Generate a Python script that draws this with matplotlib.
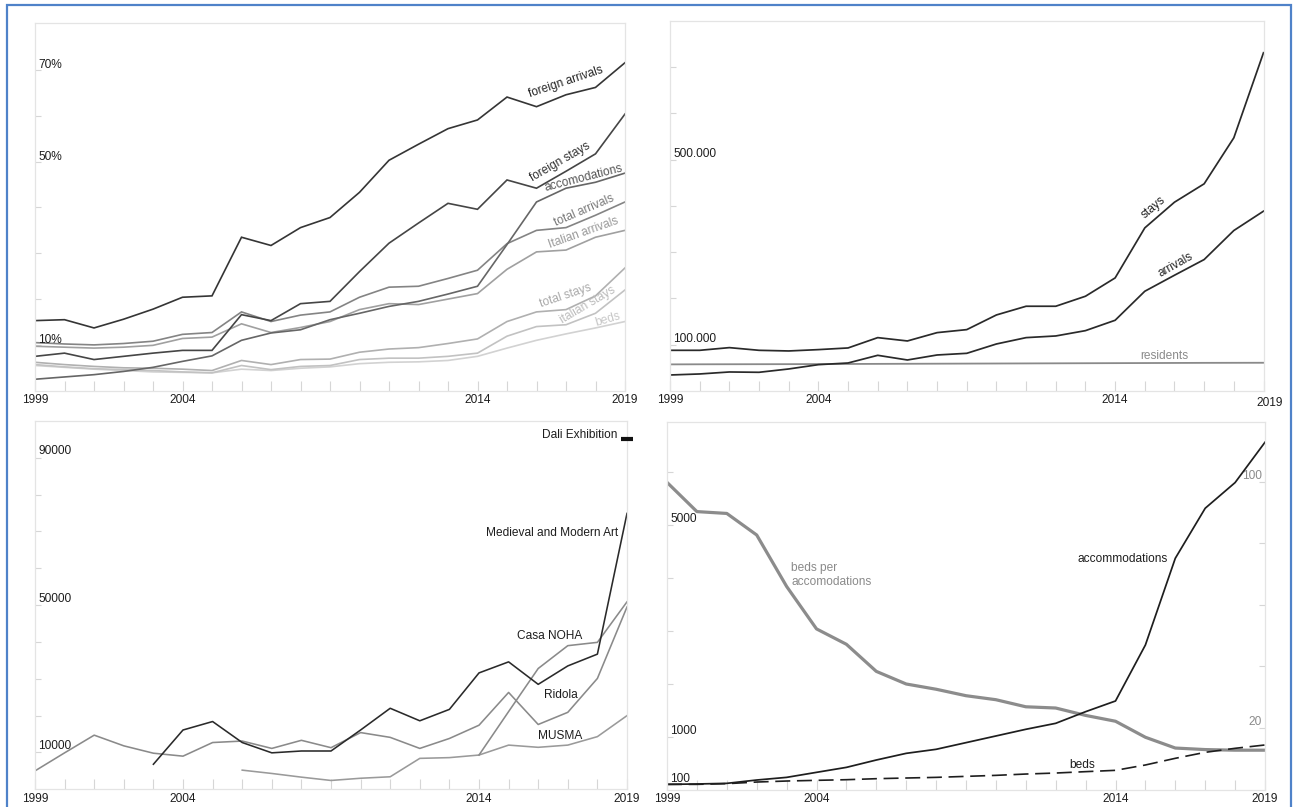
import matplotlib
matplotlib.use("Agg")
import matplotlib.pyplot as plt
from matplotlib.patches import Rectangle

plt.rcParams['font.family'] = ['Liberation Sans', 'DejaVu Sans']

# ---------------- data ----------------
years = list(range(1999, 2020))
xlabels = {1999: "1999", 2004: "2004", 2014: "2014", 2019: "2019"}

# panel 1 (percent)
foreign_arrivals = [15.3, 15.5, 13.7, 15.6, 17.8, 20.4, 20.7, 33.5, 31.7, 35.6, 37.8,
                    43.3, 50.3, 53.8, 57.2, 59.1, 64.1, 62.0, 64.6, 66.2, 71.6]
foreign_stays = [7.5, 8.2, 6.8, 7.5, 8.2, 8.8, 8.8, 16.6, 15.3, 19.0, 19.5,
                 26.0, 32.2, 36.6, 40.9, 39.6, 46.0, 44.2, 47.9, 51.7, 60.4]
accomodations_pct = [2.5, 3.0, 3.5, 4.2, 5.1, 6.4, 7.6, 11.0, 12.6, 13.3, 15.5,
                     16.9, 18.4, 19.5, 21.1, 22.8, 31.9, 41.2, 44.2, 45.5, 47.5]
total_arrivals = [10.5, 10.2, 10.0, 10.3, 10.8, 12.3, 12.7, 17.2, 15.1, 16.5, 17.2,
                  20.4, 22.6, 22.8, 24.5, 26.3, 32.1, 35.0, 35.6, 38.3, 41.2]
italian_arrivals = [9.7, 9.5, 9.3, 9.5, 9.9, 11.4, 11.7, 14.6, 12.7, 13.8, 15.1,
                    17.7, 19.0, 18.8, 20.0, 21.2, 26.5, 30.3, 30.7, 33.5, 35.0]
total_stays = [6.2, 5.7, 5.3, 5.0, 4.9, 4.7, 4.4, 6.6, 5.7, 6.8, 6.9,
               8.4, 9.1, 9.4, 10.3, 11.3, 15.1, 17.2, 17.7, 20.7, 26.8]
italian_stays = [5.7, 5.2, 4.8, 4.6, 4.4, 4.1, 3.9, 5.5, 4.6, 5.3, 5.5,
                 6.8, 7.1, 7.1, 7.5, 8.2, 11.9, 14.0, 14.4, 16.9, 22.0]
beds_pct = [5.5, 5.1, 4.7, 4.4, 4.1, 4.0, 3.9, 4.7, 4.4, 4.9, 5.2,
            5.9, 6.2, 6.3, 6.6, 7.5, 9.3, 11.0, 12.4, 13.7, 15.1]

# panel 2 (absolute)
stays = [87900, 87900, 93700, 87900, 86500, 89400, 93000, 115300, 108100, 126100, 132600,
         164300, 183100, 183100, 204700, 244300, 352400, 407900, 447600, 547000, 730800]
arrivals = [34600, 36800, 41100, 40400, 47600, 56900, 60500, 77100, 67000, 77800, 81400,
            101600, 115300, 118900, 130400, 152800, 215500, 250100, 284000, 346700, 388500]
residents = [57500, 57700, 57800, 57900, 58000, 58200, 58400, 58600, 58800, 59000, 59200,
             59400, 59600, 59800, 60000, 60200, 60400, 60600, 60800, 60900, 61000]

# panel 3 (museum visitors)
ridola_years = years
ridola = [5000, 9900, 14700, 11800, 9800, 9000, 12700, 13100, 11100, 13300, 11300,
          15400, 14100, 11100, 13800, 17400, 26300, 17600, 20900, 30100, 49500]
medieval_years = list(range(2003, 2020))
medieval = [6800, 16100, 18400, 12700, 9900, 10400, 10400, 16100, 22000, 18600, 21700,
            31600, 34600, 28500, 33500, 36700, 74900]
noha_years = list(range(2014, 2020))
casa_noha = [9300, 21100, 32800, 39000, 39900, 50900]
musma_years = list(range(2006, 2020))
musma = [5200, 4300, 3300, 2400, 3000, 3400, 8400, 8600, 9300, 12000, 11400, 12000, 14300, 20000]
dali_year = [2019]
dali = [95000]

# panel 4
accommodations = [99, 106, 118, 181, 231, 326, 420, 559, 685, 761, 887,
                  1013, 1139, 1252, 1472, 1674, 2732, 4370, 5315, 5800, 6562]
beds = [99, 99, 112, 143, 162, 175, 187, 206, 219, 231, 250,
        269, 294, 313, 339, 364, 465, 591, 704, 780, 843]
beds_per_acc = [99.8, 90.3, 89.7, 82.7, 66.0, 52.2, 47.2, 38.4, 34.3, 32.6, 30.5,
                29.2, 26.9, 26.5, 24.1, 22.2, 17.0, 13.5, 13.0, 12.8, 12.8]

# ---------------- figure ----------------
W, H = 1301, 807
fig = plt.figure(figsize=(W / 100, H / 100), dpi=100)


def add_ax(left, top, right, bottom):
    return fig.add_axes([left / W, 1 - bottom / H, (right - left) / W, (bottom - top) / H])


FS = 8.6
FRAME = '#e4e4e4'
TICK = '#d6d6d6'


def style(ax, yticks):
    for s in ax.spines.values():
        s.set_color(FRAME)
        s.set_linewidth(0.9)
    ax.set_xlim(1999, 2019)
    ax.set_xticks(years)
    ax.set_xticklabels([xlabels.get(y, "") for y in years])
    ax.tick_params(axis='x', direction='in', length=7.5, color=TICK, width=0.8,
                   labelsize=FS, pad=2.5, labelcolor='#1e1e1e')
    ax.set_yticks(yticks)
    ax.set_yticklabels([])
    ax.tick_params(axis='y', direction='in', length=4, color=TICK, width=0.8)


def ylab(ax, v, text, color='#1e1e1e', dy=1.5):
    ax.annotate(text, xy=(0, v), xycoords=ax.get_yaxis_transform(), xytext=(2.5, dy),
                textcoords='offset points', ha='left', va='baseline', fontsize=FS, color=color)


# ---- panel 1 ----
ax1 = add_ax(35, 23.3, 625, 390.7)
style(ax1, [10, 20, 30, 40, 50, 60, 70])
ax1.set_ylim(0, 80.2)
lw = 1.2
series1 = [
    (beds_pct, '#d2d2d2'), (italian_stays, '#c2c2c2'), (total_stays, '#b0b0b0'),
    (italian_arrivals, '#a0a0a0'), (total_arrivals, '#848484'), (accomodations_pct, '#666666'),
    (foreign_stays, '#454545'), (foreign_arrivals, '#353535'),
]
for vals, c in series1:
    ax1.plot(years, vals, color=c, lw=lw, solid_joinstyle='miter')
ylab(ax1, 70, "70%")
ylab(ax1, 50, "50%")
ylab(ax1, 10, "10%")
labels1 = [
    ("foreign arrivals", 2017.0, 67.4, 18.5, '#262626'),
    ("foreign stays", 2016.8, 49.9, 30, '#303030'),
    ("accomodations", 2017.6, 46.4, 14.4, '#555555'),
    ("total arrivals", 2017.6, 39.4, 23.4, '#7a7a7a'),
    ("Italian arrivals", 2017.6, 34.4, 19.6, '#999999'),
    ("total stays", 2017.0, 20.7, 18.4, '#aaaaaa'),
    ("italian stays", 2017.75, 18.7, 30.5, '#bbbbbb'),
    ("beds", 2018.4, 15.6, 16.5, '#c8c8c8'),
]
for t, x, y, r, c in labels1:
    ax1.text(x, y, t, rotation=r, rotation_mode='anchor', ha='center', va='center',
             fontsize=FS, color=c)

# ---- panel 2 ----
ax2 = add_ax(670, 20.7, 1263.5, 391.0)
style(ax2, [100000, 200000, 300000, 400000, 500000, 600000, 700000])
ax2.set_ylim(0, 800000)
ax2.set_xticklabels([xlabels.get(y, "") if y != 2019 else "" for y in years])
ax2.text(2019.2, -0.033, "2019", transform=ax2.get_xaxis_transform(), ha='center',
         va='center', fontsize=FS, color='#1e1e1e')
ax2.plot(years, residents, color='#8a8a8a', lw=1.3)
ax2.plot(years, arrivals, color='#2a2a2a', lw=1.25)
ax2.plot(years, stays, color='#2a2a2a', lw=1.25)
ylab(ax2, 500000, "500.000", dy=2)
ylab(ax2, 100000, "100.000", dy=2)
ax2.text(2015.3, 396000, "stays", rotation=40, rotation_mode='anchor', ha='center',
         va='center', fontsize=FS, color='#262626')
ax2.text(2016.05, 273000, "arrivals", rotation=29.5, rotation_mode='anchor', ha='center',
         va='center', fontsize=FS, color='#262626')
ax2.text(2015.65, 76500, "residents", ha='center', va='center', fontsize=FS, color='#8a8a8a')

# ---- panel 3 ----
ax3 = add_ax(35, 421.0, 627, 789.3)
style(ax3, [10000, 20000, 30000, 40000, 50000, 60000, 70000, 80000, 90000])
ax3.set_ylim(0, 100000)
ax3.plot(musma_years, musma, color='#9a9a9a', lw=1.15)
ax3.plot(ridola_years, ridola, color='#8a8a8a', lw=1.15)
ax3.plot(noha_years, casa_noha, color='#8a8a8a', lw=1.15)
ax3.plot(medieval_years, medieval, color='#2a2a2a', lw=1.15)
ax3.plot(dali_year, dali, marker='_', markersize=8, mew=3, color='#111111',
         linestyle='none', clip_on=False, zorder=6)
ylab(ax3, 90000, "90000", dy=2.5)
ylab(ax3, 50000, "50000", dy=2.5)
ylab(ax3, 10000, "10000", dy=2.5)
ax3.text(2018.66, 96200, "Dali Exhibition", ha='right', va='center', fontsize=FS, color='#1e1e1e')
ax3.text(2018.7, 69600, "Medieval and Modern Art", ha='right', va='center', fontsize=FS,
         color='#1e1e1e')
ax3.text(2016.4, 41600, "Casa NOHA", ha='center', va='center', fontsize=FS, color='#1e1e1e')
ax3.text(2016.77, 25600, "Ridola", ha='center', va='center', fontsize=FS, color='#1e1e1e')
ax3.text(2016.74, 14500, "MUSMA", ha='center', va='center', fontsize=FS, color='#1e1e1e')

# ---- panel 4 ----
ax4 = add_ax(667, 421.7, 1265, 789.6)
style(ax4, [1000, 2000, 3000, 4000, 5000, 6000])
ax4.set_ylim(0, 6950)
ax4r = ax4.twinx()
ax4r.set_ylim(0, 119.5)
for s in ax4r.spines.values():
    s.set_visible(False)
ax4r.set_yticks([20, 40, 60, 80, 100])
ax4r.set_yticklabels([])
ax4r.tick_params(axis='y', direction='in', length=4, color=TICK, width=0.8)
ax4r.plot(years, beds_per_acc, color='#8c8c8c', lw=2.3, solid_joinstyle='round')
ax4.plot(years, beds, color='#1e1e1e', lw=1.2, dashes=(9, 4))
ax4.plot(years, accommodations, color='#1e1e1e', lw=1.25)
ax4.set_zorder(ax4r.get_zorder() + 1)
ax4.patch.set_visible(False)
ylab(ax4, 5000, "5000", dy=2)
ylab(ax4, 1000, "1000", dy=2)
ylab(ax4, 100, "100", dy=2)
ax4r.annotate("100", xy=(1, 100), xycoords=ax4r.get_yaxis_transform(), xytext=(-2.5, 2),
              textcoords='offset points', ha='right', va='baseline', fontsize=FS, color='#8a8a8a')
ax4r.annotate("20", xy=(1, 20), xycoords=ax4r.get_yaxis_transform(), xytext=(-2.5, 2),
              textcoords='offset points', ha='right', va='baseline', fontsize=FS, color='#8a8a8a')
ax4.text(2014.25, 4357, "accommodations", ha='center', va='center', fontsize=FS, color='#1e1e1e')
ax4.text(2003.15, 4055, "beds per\naccomodations", ha='left', va='center', fontsize=FS,
         color='#8a8a8a', linespacing=1.25)
ax4.text(2012.88, 465, "beds", ha='center', va='center', fontsize=FS, color='#1e1e1e')

# outer blue border
fig.patches.append(Rectangle((7 / W, -0.02), (1291 - 7) / W, 1 - 5 / H + 0.02,
                             transform=fig.transFigure, fill=False,
                             edgecolor='#4f82c9', linewidth=1.6))

fig.savefig("out.png", dpi=100)
